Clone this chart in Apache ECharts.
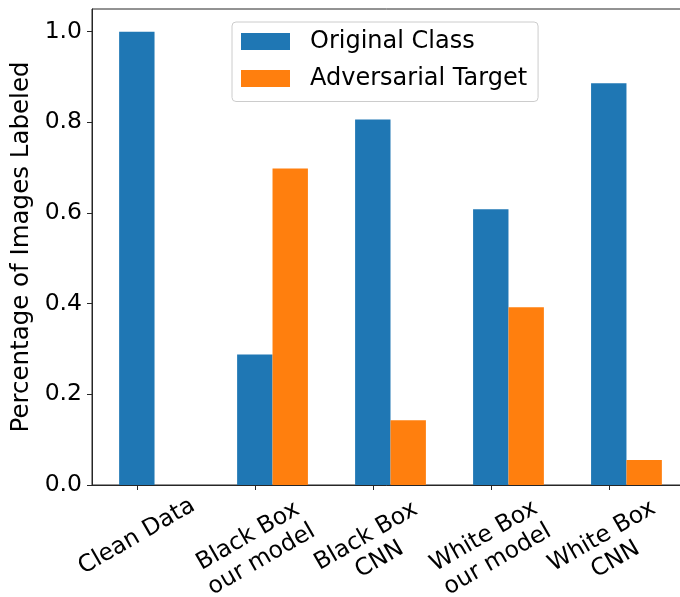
<!DOCTYPE html>
<html><head><meta charset="utf-8">
<script src="https://cdn.jsdelivr.net/npm/echarts@6/dist/echarts.min.js"></script>
<style>html,body{margin:0;padding:0;background:#fff}#c{width:680px;height:597px}</style>
</head><body><div id="c"></div>
<script>
const categories = ['Clean Data', 'Black Box\nour model', 'Black Box\nCNN', 'White Box\nour model', 'White Box\nCNN'];
const originalClass = [1.0, 0.288, 0.806, 0.608, 0.886];
const adversarialTarget = [0.0, 0.698, 0.143, 0.392, 0.055];
const seriesNames = ['Original Class', 'Adversarial Target'];
const yTickStep = 0.2;

const FONT = 'DejaVu Sans';
const BAR_FRAC = 0.3;           // bar width in category units
const X_MIN = -0.38, X_MAX = 4.68;
const catIdx = categories.map((_, i) => i);

const chart = echarts.init(document.getElementById('c'), null, {renderer: 'canvas'});

function xLabel(v) {
  const i = Math.round(v);
  const t = categories[i];
  if (t === undefined) return '';
  if (t.indexOf('\n') >= 0) return t.split('\n').map(s => '{d|' + s + '}').join('\n');
  return '{s|' + t + '}';
}

const axisColor = '#262626';

chart.setOption({
  animation: false,
  textStyle: {fontFamily: FONT},
  grid: {
    left: 92, top: 9, width: 597, height: 476,
    show: true, borderColor: axisColor, borderWidth: 1,
    containLabel: false, outerBoundsMode: 'none'
  },
  legend: {
    data: seriesNames,
    orient: 'vertical',
    left: 232, top: 22,
    padding: [7.5, 11, 11, 9],
    itemWidth: 49, itemHeight: 17, itemGap: 13,
    icon: 'rect',
    borderColor: '#cccccc', borderWidth: 1, borderRadius: 4,
    backgroundColor: 'rgba(255,255,255,0.8)',
    textStyle: {fontFamily: FONT, fontSize: 24, color: '#000', padding: [0, 0, 0, 15]}
  },
  xAxis: [{
    type: 'value', min: X_MIN, max: X_MAX,
    axisLine: {show: true, onZero: false, lineStyle: {color: axisColor, width: 1}},
    axisTick: {show: true, length: 5, lineStyle: {color: axisColor}, customValues: catIdx},
    axisLabel: {
      customValues: catIdx,
      formatter: xLabel,
      rotate: 30, align: 'center', verticalAlign: 'middle', margin: 63,
      color: '#000',
      rich: {
        d: {fontFamily: FONT, fontSize: 23.5, lineHeight: 27, color: '#000'},
        s: {fontFamily: FONT, fontSize: 23.5, lineHeight: 27, color: '#000', padding: [0, 0, 20, 11.5]}
      }
    },
    splitLine: {show: false}
  }, {
    type: 'value', min: X_MIN - BAR_FRAC, max: X_MAX - BAR_FRAC, show: false,
    splitLine: {show: false}
  }],
  yAxis: {
    type: 'value', min: 0, max: 1.05, interval: yTickStep,
    name: 'Percentage of Images Labeled',
    nameLocation: 'middle', nameGap: 56, nameRotate: 90,
    nameTextStyle: {fontFamily: FONT, fontSize: 24.5, color: '#000'},
    axisLine: {show: true, onZero: false, lineStyle: {color: axisColor, width: 1}},
    axisTick: {show: true, length: 5, lineStyle: {color: axisColor}},
    axisLabel: {fontFamily: FONT, fontSize: 23.5, color: '#000', margin: 10,
      formatter: v => v.toFixed(1)},
    splitLine: {show: false}
  },
  series: [{
    name: seriesNames[0], type: 'bar', xAxisIndex: 0,
    barWidth: (BAR_FRAC * 100) + '%',
    itemStyle: {color: '#1f77b4'},
    data: originalClass.map((v, i) => [i, v])
  }, {
    name: seriesNames[1], type: 'bar', xAxisIndex: 1,
    barWidth: (BAR_FRAC * 100) + '%',
    itemStyle: {color: '#ff7f0e'},
    data: adversarialTarget.map((v, i) => [i, v])
  }]
});
</script>
</body></html>
